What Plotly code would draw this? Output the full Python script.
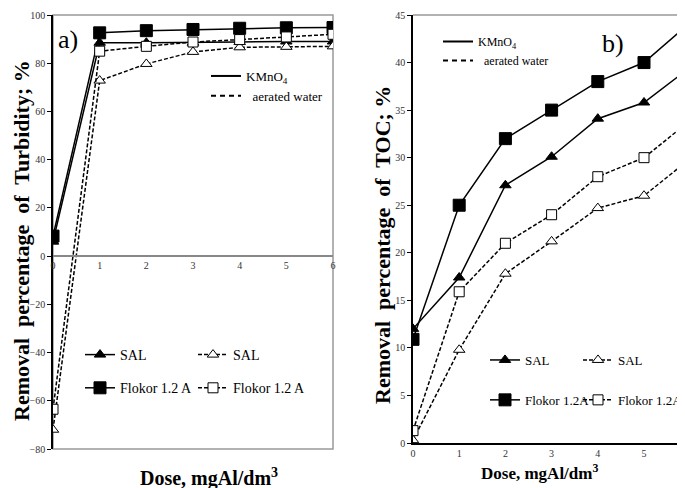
import plotly.graph_objects as go

W, H = 685, 488
OFF = 8  # page body margin offset of the rendered figure

dose = [0, 1, 2, 3, 4, 5, 6]

# Panel a) Turbidity removal, %
turb_sal_kmno4 = [6, 88.5, 88.5, 88.5, 88.8, 89, 89]
turb_flokor_kmno4 = [8.3, 92.6, 93.5, 94, 94.5, 94.7, 94.8]
turb_sal_aer = [-72, 72.8, 79.7, 84.7, 86.6, 86.8, 87]
turb_flokor_aer = [-63.5, 85, 87, 88.8, 89.8, 90.9, 92]

# Panel b) TOC removal, %
toc_sal_kmno4 = [12, 17.4, 27.1, 30.1, 34.1, 35.8, 39.5]
toc_flokor_kmno4 = [10.9, 25, 32, 35, 38, 40, 44.2]
toc_sal_aer = [0.3, 9.8, 17.8, 21.2, 24.7, 26, 29.9]
toc_flokor_aer = [1.3, 15.9, 21, 24, 28, 30, 33.9]

turb_ticks = [-80, -60, -40, -20, 0, 20, 40, 60, 80, 100]
toc_ticks = [0, 5, 10, 15, 20, 25, 30, 35, 40, 45]
x_ticks_a = [0, 1, 2, 3, 4, 5, 6]
x_ticks_b = [0, 1, 2, 3, 4, 5]

SERIF = "Liberation Serif"
DASH = "4px,2px"

def px_x(p):
    return (p - OFF) / W

def px_y(p):
    return 1 - (p - OFF) / H

fig = go.Figure()

def add_series(x, y, xa, ya, sym, filled, dash, name, legend, group, msize=9):
    fig.add_trace(go.Scatter(
        x=x, y=y, xaxis=xa, yaxis=ya, mode="lines+markers", name=name,
        line=dict(color="black", width=1.5, dash=dash),
        marker=dict(symbol=sym, size=msize, color="black" if filled else "white",
                    line=dict(color="black", width=1)),
        legend=legend, legendgroup=group))

# Panel a
add_series(dose, turb_sal_kmno4, "x", "y", "triangle-up", True, "solid", "SAL", "legend2", "a1", msize=10)
add_series(dose, turb_flokor_kmno4, "x", "y", "square", True, "solid", "Flokor 1.2 A", "legend2", "a2", msize=12)
add_series(dose, turb_sal_aer, "x", "y", "triangle-up", False, DASH, "SAL", "legend3", "a3", msize=10)
add_series(dose, turb_flokor_aer, "x", "y", "square", False, DASH, "Flokor 1.2 A", "legend3", "a4", msize=10)
# Panel b
add_series(dose, toc_sal_kmno4, "x2", "y2", "triangle-up", True, "solid", "SAL", "legend5", "b1", msize=10)
add_series(dose, toc_flokor_kmno4, "x2", "y2", "square", True, "solid", "Flokor 1.2A", "legend5", "b2", msize=12)
add_series(dose, toc_sal_aer, "x2", "y2", "triangle-up", False, DASH, "SAL", "legend6", "b3", msize=10)
add_series(dose, toc_flokor_aer, "x2", "y2", "square", False, DASH, "Flokor 1.2A", "legend6", "b4", msize=10)

# line style legends
for xa, ya, lg in [("x", "y", "legend"), ("x2", "y2", "legend4")]:
    fig.add_trace(go.Scatter(x=[None], y=[None], xaxis=xa, yaxis=ya, mode="lines",
                             name="KMnO<sub>4</sub>", line=dict(color="black", width=2),
                             legend=lg))
    fig.add_trace(go.Scatter(x=[None], y=[None], xaxis=xa, yaxis=ya, mode="lines",
                             name="  aerated water", line=dict(color="black", width=2, dash="5px,4px"),
                             legend=lg))

# Domains (reference pixel positions)
ax_dom_a = [px_x(53), px_x(333)]
ay_dom_a = [px_y(449), px_y(15)]
ax_dom_b = [px_x(413), 1.0]
ay_dom_b = [px_y(443), px_y(15)]
b_px_per_unit = 46.2
b_xmax = (W + OFF - 413) / b_px_per_unit
yr_a = [-80, 100]
zero_pos = ay_dom_a[0] + (0 - yr_a[0]) / (yr_a[1] - yr_a[0]) * (ay_dom_a[1] - ay_dom_a[0])

tickfont = dict(family=SERIF, size=10, color="#333")

def leg(x, y, size, gap):
    return dict(x=px_x(x), y=px_y(y), xanchor="left", yanchor="top",
                bgcolor="rgba(0,0,0,0)", font=dict(family=SERIF, size=size, color="black"),
                itemwidth=30, tracegroupgap=gap, traceorder="grouped")

fig.update_layout(
    width=W, height=H, margin=dict(l=0, r=0, t=0, b=0, autoexpand=False),
    paper_bgcolor="white", plot_bgcolor="white",
    font=dict(family=SERIF, color="black"),
    xaxis=dict(domain=ax_dom_a, range=[0, 6], anchor="free", position=zero_pos,
               tickvals=x_ticks_a, ticks="", showgrid=False, zeroline=False,
               showline=True, linecolor="#888", linewidth=1.5, tickfont=tickfont),
    yaxis=dict(domain=ay_dom_a, range=yr_a, anchor="x", tickvals=turb_ticks,
               ticks="outside", ticklen=4, tickcolor="black", showgrid=False,
               zeroline=False, showline=True, linecolor="black", linewidth=1.5,
               tickfont=tickfont),
    xaxis2=dict(domain=ax_dom_b, range=[0, b_xmax], anchor="y2", tickvals=x_ticks_b,
                ticks="", showgrid=False, zeroline=False, showline=True,
                linecolor="black", linewidth=1.5, tickfont=tickfont),
    yaxis2=dict(domain=ay_dom_b, range=[0, 45], anchor="x2", tickvals=toc_ticks,
                ticks="outside", ticklen=4, tickcolor="black", showgrid=False,
                zeroline=False, showline=True, linecolor="black", linewidth=1.5,
                tickfont=tickfont),
    legend=leg(206, 61, 13, 0),
    legend2=leg(80, 339, 14, 12),
    legend3=leg(193, 339, 14, 12),
    legend4=leg(438, 27, 12, 0),
    legend5=leg(485, 345, 13, 20),
    legend6=leg(578, 345, 13, 20),
)

# grey frames
fig.add_shape(type="rect", xref="x domain", yref="y domain", x0=0, x1=1, y0=0, y1=1,
              line=dict(color="#999", width=1.5), layer="below")
fig.add_shape(type="path", xref="x2 domain", yref="y2 domain", path="M 0,1 L 1.02,1",
              line=dict(color="#999", width=1.5), layer="below")

def ann(text, x, y, size, bold=False, angle=0):
    fig.add_annotation(text=f"<b>{text}</b>" if bold else text, textangle=angle,
                       xref="paper", yref="paper", x=px_x(x), y=px_y(y),
                       xanchor="center", yanchor="middle", showarrow=False,
                       font=dict(family=SERIF, size=size, color="black"))

ann("Removal  percentage  of  Turbidity; %", 21, 241, 22, True, -90)
ann("Removal  percentage  of  TOC; %", 383, 245, 22, True, -90)
ann("Dose, mgAl/dm<sup>3</sup>", 209, 477, 20, True)
ann("Dose, mgAl/dm<sup>3</sup>", 539, 472, 17, True)
ann("a)", 68, 40, 26)
ann("b)", 613, 44, 26)

fig.write_html("out.html")
